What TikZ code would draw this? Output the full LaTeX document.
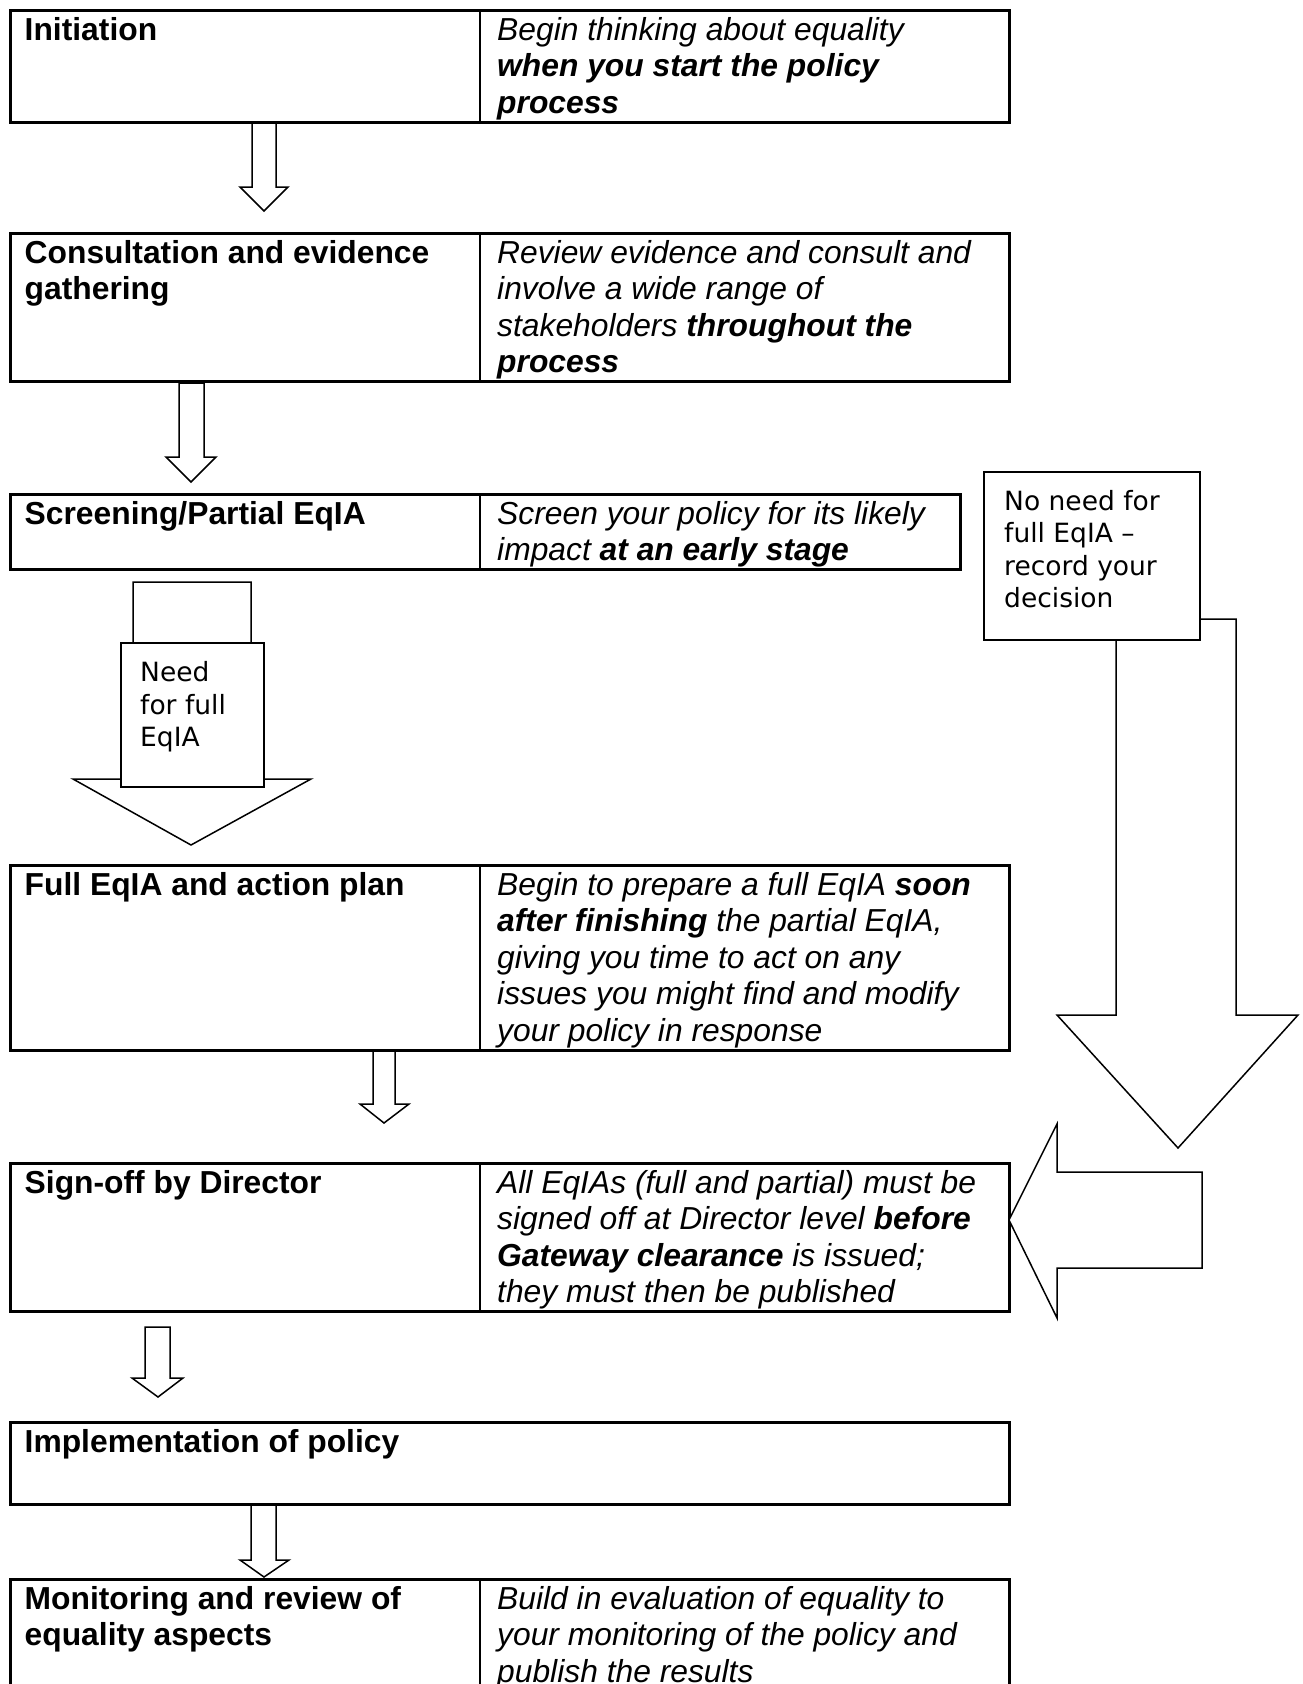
\documentclass[tikz,border=0pt]{standalone}
\usepackage{fontspec}
\setmainfont{Liberation Sans}
\newfontfamily\notefont{DejaVu Sans}
\begin{document}
\begin{tikzpicture}[x=1pt,y=-1pt,
  box/.style={draw, line width=2.5pt, fill=white, rectangle, inner sep=0pt, anchor=north west},
  divider/.style={line width=1.6pt},
  blockarrow/.style={draw, line width=1.5pt, fill=white, line join=miter},
  notebox/.style={draw, line width=1.5pt, fill=white, rectangle, inner sep=0pt, anchor=north west},
  lbl/.style={anchor=north west, inner sep=0pt, align=left, font=\fontsize{31.8}{36.5}\selectfont\bfseries},
  desc/.style={anchor=north west, inner sep=0pt, align=left, font=\fontsize{31.8}{36.5}\selectfont\itshape},
  note/.style={anchor=north west, inner sep=0pt, align=left, font=\notefont\fontsize{26.5}{32.5}\selectfont}]
\useasboundingbox[fill=white] (0,0) rectangle (1303,1684);
\coordinate (dx) at (480,0);
% strut height main = 25.55, note = 22.75 : node top = baseline - strut height

% ---- block arrows between rows ----
\draw[blockarrow] (252,121) -- (252,187) -- (240,187) -- (264,211) -- (288,187) -- (276,187) -- (276,121) -- cycle;
\draw[blockarrow] (179,383) -- (179,457) -- (166,457) -- (191,482) -- (216,457) -- (204,457) -- (204,383) -- cycle;
\draw[blockarrow] (373,1049) -- (373,1104) -- (360,1104) -- (384,1123) -- (409,1104) -- (395,1104) -- (395,1049) -- cycle;
\draw[blockarrow] (145,1327) -- (145,1378) -- (132,1378) -- (158,1397) -- (183,1378) -- (170,1378) -- (170,1327) -- cycle;
\draw[blockarrow] (251,1503) -- (251,1560) -- (240,1560) -- (264,1577) -- (289,1560) -- (276,1560) -- (276,1503) -- cycle;

% ---- rows ----
\node[box, minimum width=999pt, minimum height=112pt] (init) at (9,9) {};
\draw[divider] (dx |- init.north) -- (dx |- init.south);
\node[lbl] (initL) at (24.5,14.5) {\strut Initiation};
\node[desc] (initR) at (497,14.5) {\strut Begin thinking about equality\\\textbf{when you start the policy}\\\textbf{process}};

\node[box, minimum width=999pt, minimum height=148pt] (cons) at (9,232) {};
\draw[divider] (dx |- cons.north) -- (dx |- cons.south);
\node[lbl] (consL) at (24.5,237.5) {\strut Consultation and evidence\\gathering};
\node[desc] (consR) at (497,237.5) {\strut Review evidence and consult and\\involve a wide range of\\stakeholders \textbf{throughout the}\\\textbf{process}};

\node[box, minimum width=950pt, minimum height=75pt] (scr) at (9,493) {};
\draw[divider] (dx |- scr.north) -- (dx |- scr.south);
\node[lbl] (scrL) at (24.5,498.5) {\strut Screening/Partial EqIA};
\node[desc] (scrR) at (497,498.5) {\strut Screen your policy for its likely\\impact \textbf{at an early stage}};

\node[box, minimum width=999pt, minimum height=185pt] (full) at (9,864) {};
\draw[divider] (dx |- full.north) -- (dx |- full.south);
\node[lbl] (fullL) at (24.5,869.5) {\strut Full EqIA and action plan};
\node[desc] (fullR) at (497,869.5) {\strut Begin to prepare a full EqIA \textbf{soon}\\\textbf{after finishing} the partial EqIA,\\giving you time to act on any\\issues you might find and modify\\your policy in response};

\node[box, minimum width=999pt, minimum height=148pt] (sign) at (9,1162) {};
\draw[divider] (dx |- sign.north) -- (dx |- sign.south);
\node[lbl] (signL) at (24.5,1167.5) {\strut Sign-off by Director};
\node[desc] (signR) at (497,1167.5) {\strut All EqIAs (full and partial) must be\\signed off at Director level \textbf{before}\\\textbf{Gateway clearance} is issued;\\they must then be published};

\node[box, minimum width=999pt, minimum height=82pt] (impl) at (9,1421) {};
\node[lbl] (implL) at (24.5,1426.5) {\strut Implementation of policy};

\node[box, minimum width=999pt, minimum height=130pt] (mon) at (9,1578) {};
\draw[divider] (dx |- mon.north) -- (dx |- mon.south);
\node[lbl] (monL) at (24.5,1583.5) {\strut Monitoring and review of\\equality aspects};
\node[desc] (monR) at (497,1583.5) {\strut Build in evaluation of equality to\\your monitoring of the policy and\\publish the results};

% ---- "Need for full EqIA" callout arrow ----
\draw[blockarrow] (133,582) -- (133,779) -- (73,779) -- (191,845) -- (311,779) -- (251,779) -- (251,582) -- cycle;
\node[notebox, minimum width=143pt, minimum height=144pt] (needbox) at (120,642) {};
\node[note] (needT) at (140,659) {\strut Need\\for full\\EqIA};

% ---- "No need" branch ----
\draw[blockarrow] (1116,619) -- (1116,1015) -- (1057,1015) -- (1178,1148) -- (1298,1015) -- (1236,1015) -- (1236,619) -- cycle;
\node[notebox, minimum width=216pt, minimum height=168pt] (nobox) at (983,471) {};
\node[note] (noT) at (1004,487.25) {\strut No need for\\full EqIA –\\record your\\decision};

% ---- arrow into sign-off ----
\draw[blockarrow] (1009,1220) -- (1057,1124) -- (1057,1172) -- (1202,1172) -- (1202,1268) -- (1057,1268) -- (1057,1318) -- cycle;
\end{tikzpicture}
\end{document}
